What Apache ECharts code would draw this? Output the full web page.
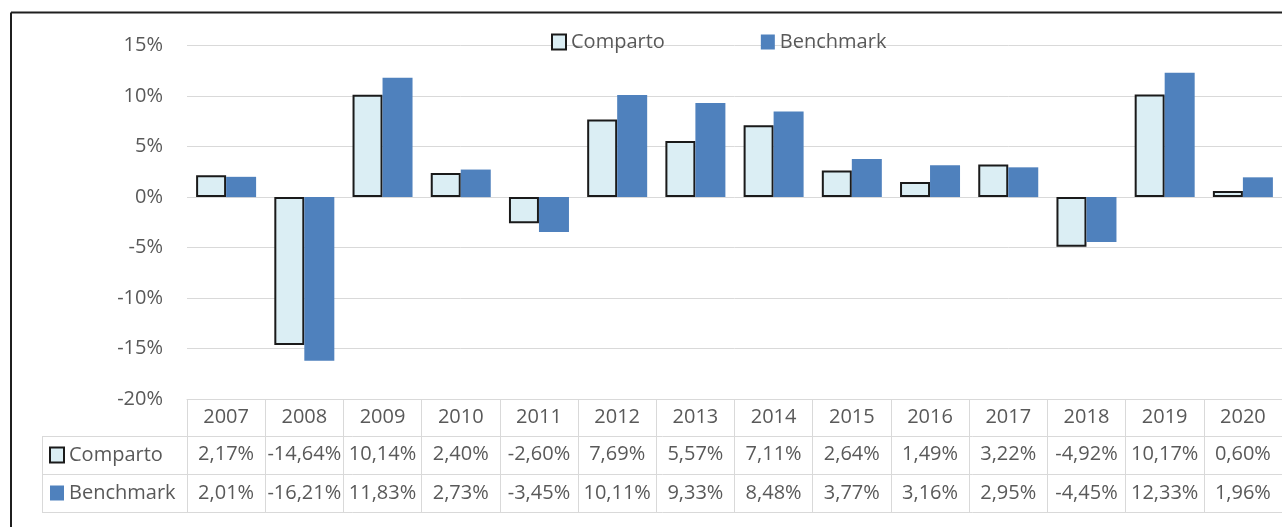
<!DOCTYPE html>
<html><head><meta charset="utf-8">
<script src="https://cdn.jsdelivr.net/npm/echarts@6/dist/echarts.min.js"></script>
<style>html,body{margin:0;padding:0;background:#fff;overflow:hidden}#c{width:1282px;height:527px}</style>
</head><body><div id="c"></div>
<script>
const years = ['2007','2008','2009','2010','2011','2012','2013','2014','2015','2016','2017','2018','2019','2020'];
const comparto = [2.17,-14.64,10.14,2.40,-2.60,7.69,5.57,7.11,2.64,1.49,3.22,-4.92,10.17,0.60];
const benchmark = [2.01,-16.21,11.83,2.73,-3.45,10.11,9.33,8.48,3.77,3.16,2.95,-4.45,12.33,1.96];
const seriesNames = ['Comparto','Benchmark'];
const yMin = -20, yMax = 15, yStep = 5;

const FONT = 'Open Sans';
const TXT = '#595959';
const LINE = '#d9d9d9';
const fmt = v => v.toFixed(2).replace('.', ',') + '%';

const chart = echarts.init(document.getElementById('c'), null, {renderer:'canvas'});
const labelBase = {interval:0, fontFamily:FONT, fontSize:20, color:TXT, verticalAlign:'middle'};
const legendBase = {data:seriesNames, icon:'rect', padding:0, itemWidth:14, itemHeight:15, itemTextGap:7,
  textStyle:{fontFamily:FONT, fontSize:20, color:TXT}};
chart.setOption({
  animation:false,
  backgroundColor:'#fff',
  textStyle:{fontFamily:FONT},
  grid:{left:187, top:45.7, width:1100, height:353.3},
  legend:[
    Object.assign({}, legendBase, {left:551, top:32, itemGap:96}),
    Object.assign({}, legendBase, {orient:'vertical', left:49, top:445, itemGap:18})
  ],
  xAxis:[
    {type:'category', data:years, position:'bottom',
     axisLine:{onZero:false, lineStyle:{color:LINE, width:1}},
     axisTick:{show:true, interval:0, length:113, lineStyle:{color:LINE}},
     axisLabel:Object.assign({}, labelBase, {margin:18.5})},
    {type:'category', data:years, position:'bottom', offset:37,
     axisLine:{show:false}, axisTick:{show:false},
     axisLabel:Object.assign({}, labelBase, {margin:18.5, formatter:(v,i)=>fmt(comparto[i])})},
    {type:'category', data:years, position:'bottom', offset:75,
     axisLine:{show:false}, axisTick:{show:false},
     axisLabel:Object.assign({}, labelBase, {margin:19, formatter:(v,i)=>fmt(benchmark[i])})}
  ],
  yAxis:{type:'value', min:yMin, max:yMax, interval:yStep,
    axisLine:{show:false}, axisTick:{show:false},
    splitLine:{lineStyle:{color:LINE}},
    axisLabel:{formatter:'{value}%', margin:24, fontFamily:FONT, fontSize:20, color:TXT}},
  series:[
    {name:seriesNames[0], type:'bar', data:comparto, barWidth:30, barGap:'0%',
     itemStyle:{color:'#DBEEF4', borderColor:'#1a1a1a', borderWidth:2}},
    {name:seriesNames[1], type:'bar', data:benchmark, barWidth:30, barGap:'0%',
     itemStyle:{color:'#4F81BD'}}
  ],
  graphic:[
    {type:'line', silent:true, shape:{x1:42,y1:436.5,x2:1300,y2:436.5}, style:{stroke:LINE, lineWidth:1}},
    {type:'line', silent:true, shape:{x1:42,y1:474.5,x2:1300,y2:474.5}, style:{stroke:LINE, lineWidth:1}},
    {type:'line', silent:true, shape:{x1:42,y1:512.5,x2:1300,y2:512.5}, style:{stroke:LINE, lineWidth:1}},
    {type:'line', silent:true, shape:{x1:42.5,y1:436.5,x2:42.5,y2:512.5}, style:{stroke:LINE, lineWidth:1}},
    {type:'line', silent:true, z:100, shape:{x1:11,y1:12.5,x2:1300,y2:12.5}, style:{stroke:'#1f1f1f', lineWidth:2}},
    {type:'line', silent:true, z:100, shape:{x1:11,y1:12.5,x2:11,y2:540}, style:{stroke:'#1f1f1f', lineWidth:2}}
  ]
});
</script></body></html>
